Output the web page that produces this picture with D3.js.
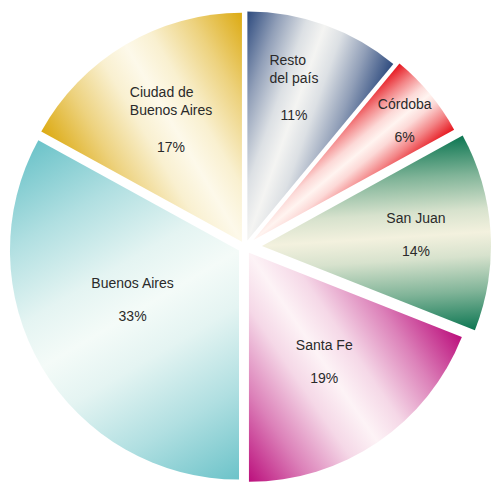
<!DOCTYPE html>
<html><head><meta charset="utf-8">
<script src="https://cdn.jsdelivr.net/npm/d3@7"></script>
<style>body{margin:0;background:#fff}svg{display:block}</style>
</head><body>
<svg id="chart" width="494" height="484"></svg>
<script>
// ---- data ----
const categories = ["Resto del país", "Córdoba", "San Juan", "Santa Fe", "Buenos Aires", "Ciudad de Buenos Aires"];
const labelLines = [["Resto", "del país"], ["Córdoba"], ["San Juan"], ["Santa Fe"], ["Buenos Aires"], ["Ciudad de", "Buenos Aires"]];
const values = [11, 6, 14, 19, 33, 17];
const percentLabels = ["11%", "6%", "14%", "19%", "33%", "17%"];

// ---- style ----
const colors = ["#2d4a7e", "#e6141c", "#0c7652", "#bb0f7c", "#6cc3c9", "#dcaa12"];
const midColors = ["#f4f4f2", "#fff4f0", "#f3f1de", "#fdf3f6", "#f4fbf8", "#fdf9ea"];
const explode = [7, 11, 17, 7, 7, 6];
const labelRadius = [141, 194, 171, 153, 132, 124];
const labelNudgeDeg = [0.5, 5, 5, 3, -1, -6];

const W = 494, H = 484, cx = 245, cy = 247, R = 229;
const svg = d3.select("#chart");
const defs = svg.append("defs");

const pie = d3.pie().sort(null).value(d => d)(values);
const arc = d3.arc().innerRadius(0).outerRadius(R);

pie.forEach((p, i) => {
  const mid = (p.startAngle + p.endAngle) / 2;
  const half = (p.endAngle - p.startAngle) / 2;
  const w = R * Math.sin(Math.min(half, Math.PI / 2));
  const ox = cx + explode[i] * Math.sin(mid);
  const oy = cy - explode[i] * Math.cos(mid);
  const gid = "g" + i;
  const mix = d3.interpolateRgb(colors[i], midColors[i]);
  const g = defs.append("linearGradient").attr("id", gid)
    .attr("gradientUnits", "userSpaceOnUse")
    .attr("x1", -w * Math.cos(mid)).attr("y1", -w * Math.sin(mid))
    .attr("x2", w * Math.cos(mid)).attr("y2", w * Math.sin(mid));
  [[0, 0], [0.2, 0.5], [0.38, 0.88], [0.5, 1], [0.62, 0.88], [0.8, 0.5], [1, 0]].forEach(([o, t]) =>
    g.append("stop").attr("offset", o).attr("stop-color", mix(t)));

  svg.append("g").attr("transform", `translate(${ox},${oy})`)
    .append("path").attr("d", arc(p)).attr("fill", `url(#${gid})`);
});

// labels
const font = "'Liberation Sans', Arial, sans-serif";
pie.forEach((p, i) => {
  const a = (p.startAngle + p.endAngle) / 2 + labelNudgeDeg[i] * Math.PI / 180;
  const x = cx + labelRadius[i] * Math.sin(a);
  const y = cy - labelRadius[i] * Math.cos(a);
  const g = svg.append("g").attr("transform", `translate(${x},${y})`)
    .style("font-family", font).style("font-size", "14px").attr("fill", "#2a2a2a");
  g.append("text").attr("text-anchor", "middle").attr("y", 5).text(percentLabels[i]);
  const lines = labelLines[i];
  if (lines.length === 1) {
    g.append("text").attr("text-anchor", "middle").attr("y", 5 - 33).text(lines[0]);
  } else {
    const ts = lines.map((t, k) => g.append("text").attr("y", 5 - 37 - 18 * (lines.length - 1 - k)).text(t));
    const maxW = d3.max(ts, t => t.node().getComputedTextLength());
    ts.forEach(t => t.attr("x", -maxW / 2));
  }
});
</script>
</body></html>
